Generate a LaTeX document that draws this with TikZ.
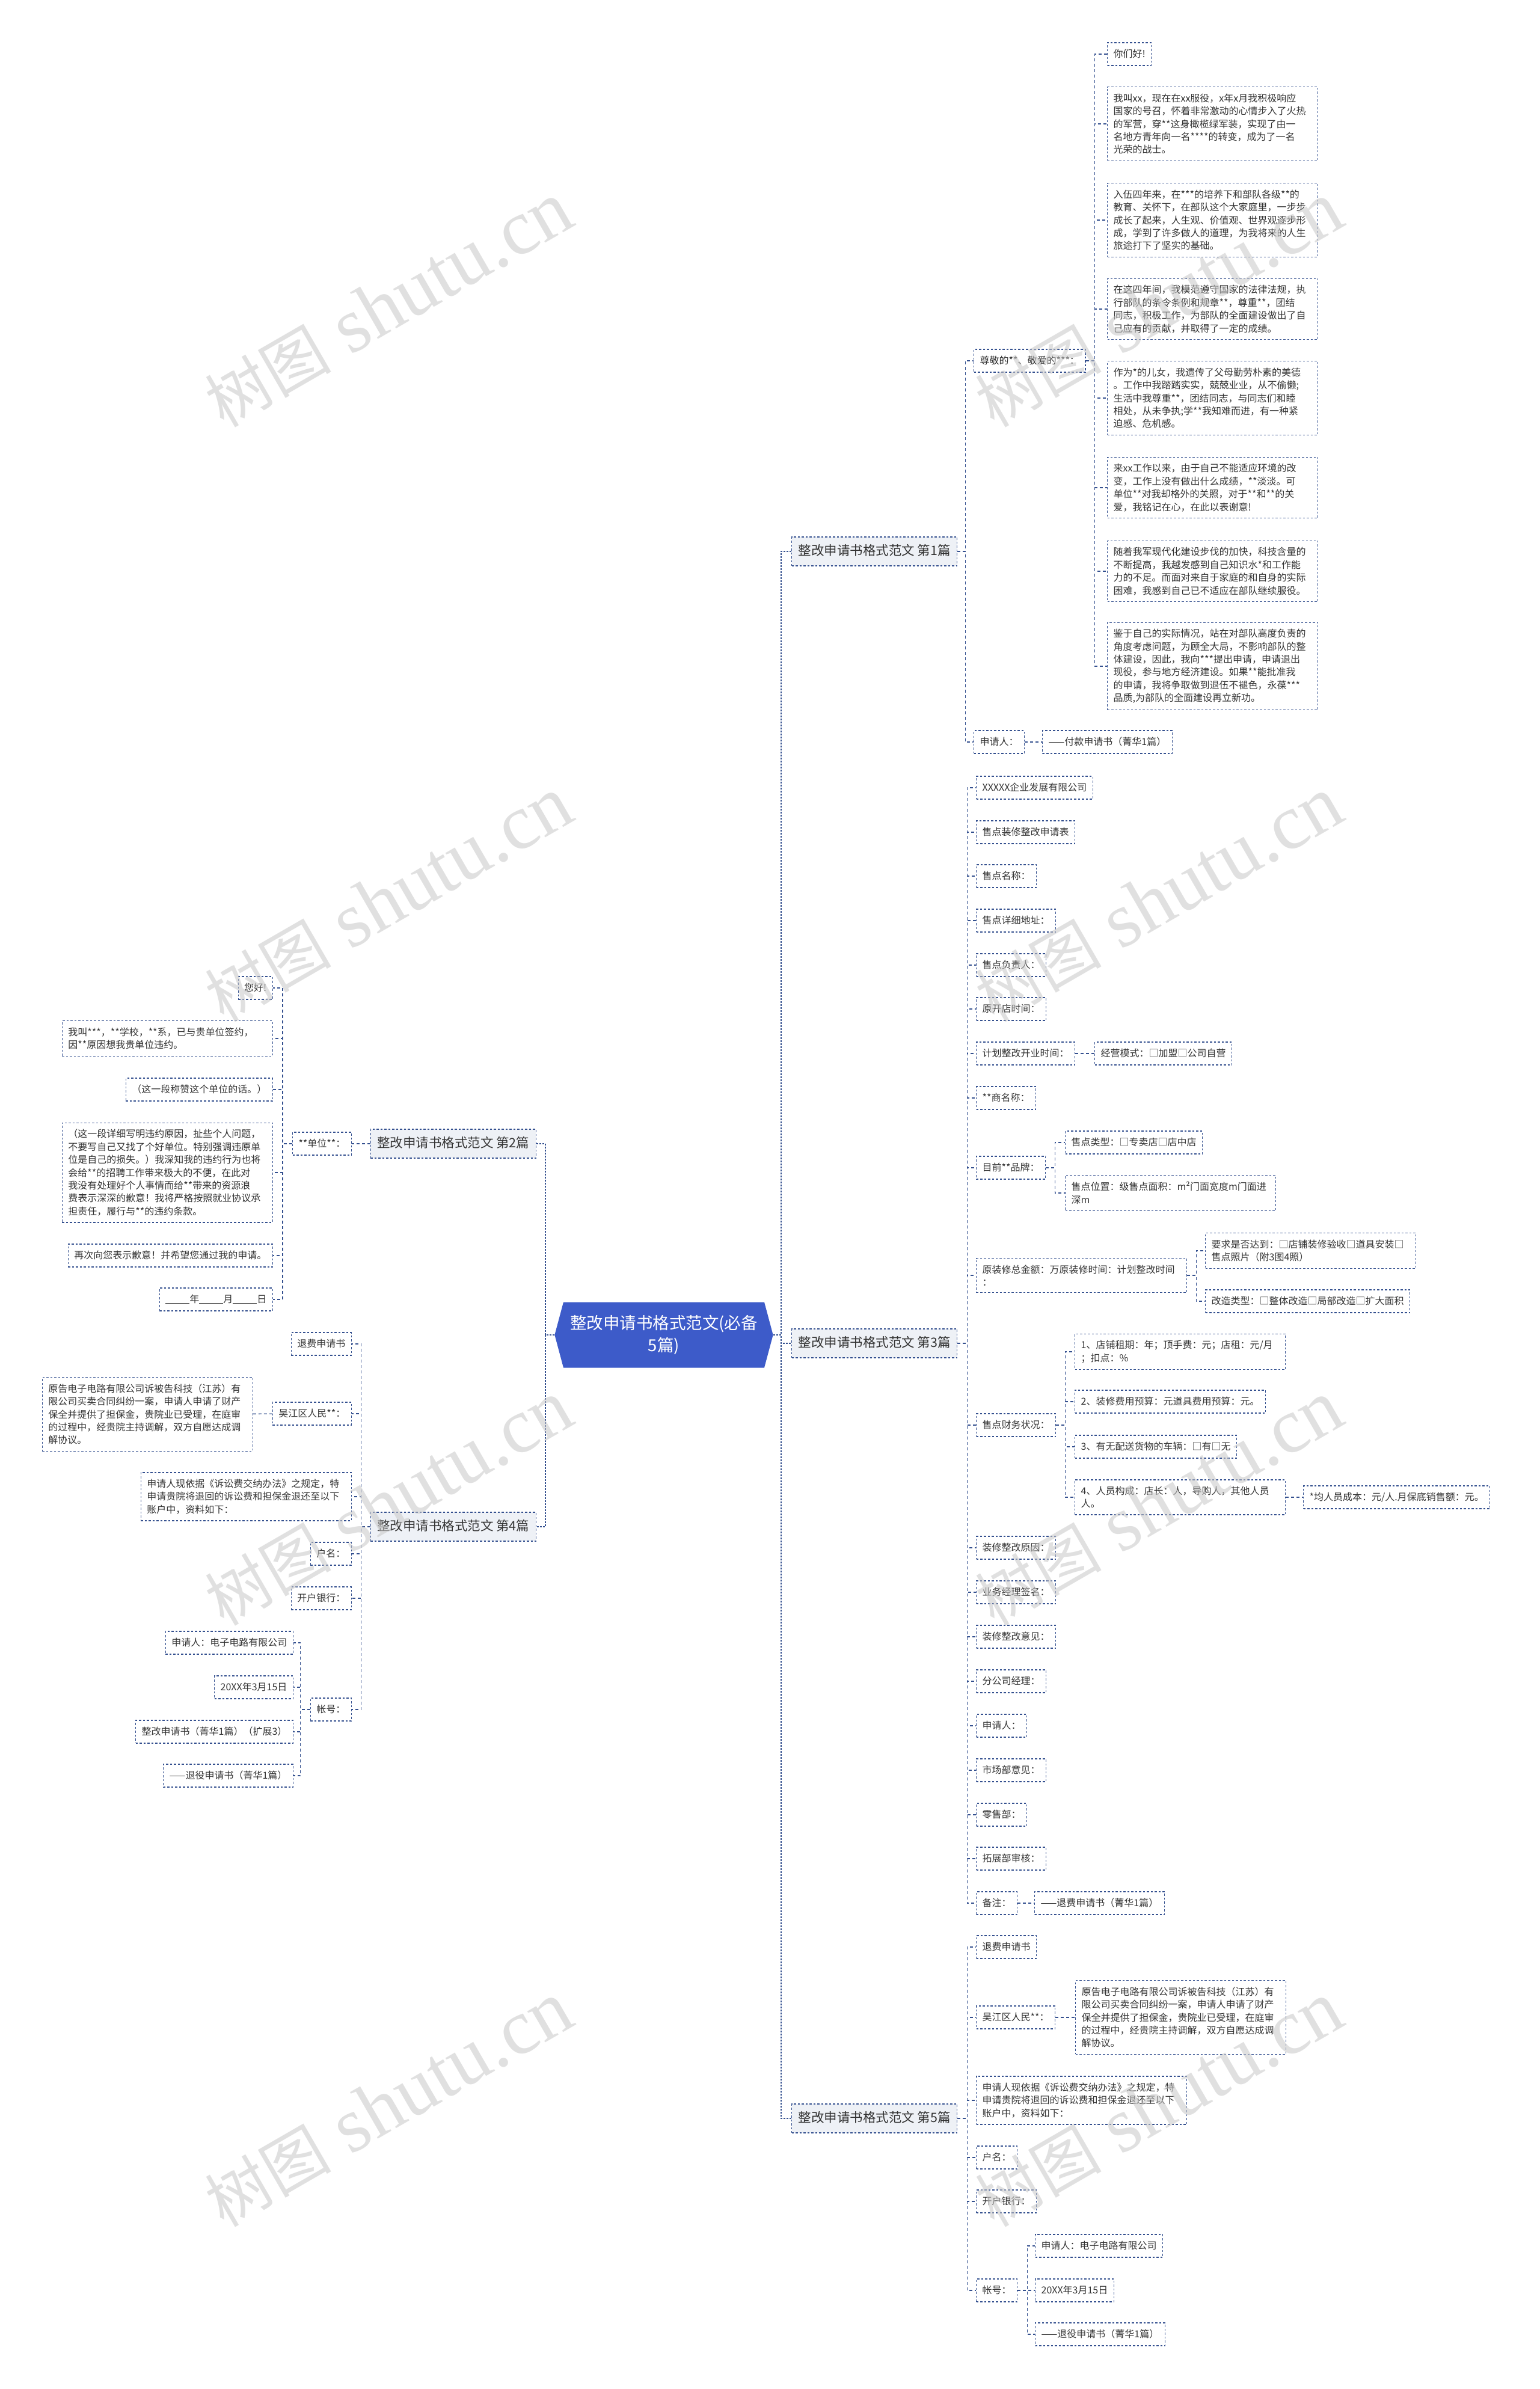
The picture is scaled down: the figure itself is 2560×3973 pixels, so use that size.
\documentclass[tikz,border=0pt]{standalone}
\usepackage{fontspec}
\usepackage{xcolor}
\usepackage{tikz}
\usetikzlibrary{shapes.symbols}
\newfontfamily\cjk{Noto Sans CJK SC}
\newfontfamily\wmserif{Liberation Serif}
\definecolor{navy}{HTML}{34508F}
\definecolor{ink}{HTML}{333333}
\definecolor{tipfill}{HTML}{EEF1F6}
\definecolor{rootblue}{HTML}{3D5BC9}
\definecolor{wmgray}{HTML}{C8C8C8}

\tikzset{
  box/.style={draw=navy, dash pattern=on 3.5pt off 3pt, line width=1.2pt, fill=white, text=ink,
    font=\cjk\fontsize{16}{21.4}\selectfont, inner xsep=10pt, inner ysep=11pt},
  leaf/.style={box, text height=13pt, text depth=3pt},
  para/.style={box, text width=330pt, align=left},
  branch/.style={box, fill=tipfill, font=\cjk\fontsize{21.5}{26}\selectfont, inner xsep=11pt,
    inner ysep=13.5pt, text height=17pt, text depth=4pt},
  root/.style={shape=signal, signal to=east and west, signal pointer angle=150, fill=rootblue,
    text=white, font=\cjk\fontsize{27.5}{37}\selectfont, text width=322pt, align=center,
    inner xsep=6pt, inner ysep=21pt, minimum height=109pt},
  trunk/.style={navy, line width=2.2pt, dash pattern=on 3pt off 2pt},
  link/.style={navy, line width=1.3pt, dash pattern=on 5pt off 4pt},
  wm/.style={text=wmgray, opacity=0.55, rotate=30, inner sep=0pt, font=\wmserif\fontsize{130}{130}\selectfont}
}

\begin{document}
\begin{tikzpicture}[x=1pt, y=-1pt]
  \useasboundingbox (0,0) rectangle (2560,3973);
  \fill[white] (0,0) rectangle (2560,3973);

  \node[root] (root) at (1104,2220) {整改申请书格式范文(必备\\5篇)};

  \node[branch, anchor=west] (b1) at (1316,917) {整改申请书格式范文 第1篇};
  \node[branch, anchor=east] (b2) at (892,1902) {整改申请书格式范文 第2篇};
  \node[branch, anchor=west] (b3) at (1316,2234) {整改申请书格式范文 第3篇};
  \node[branch, anchor=east] (b4) at (892,2539) {整改申请书格式范文 第4篇};
  \node[branch, anchor=west] (b5) at (1316,3523) {整改申请书格式范文 第5篇};

  \foreach \b in {b1,b3,b5}
    \draw[trunk] (root.east) -- ++(13,0) |- (\b.west);
  \foreach \b in {b2,b4}
    \draw[trunk] (root.west) -- ++(-15,0) |- (\b.east);

  % 第1篇
  \node[leaf, anchor=west] (b1a) at (1619,600) {尊敬的**、敬爱的***：};
  \node[leaf, anchor=west] (b1b) at (1619,1234) {申请人：};
  \node[leaf, anchor=west] (b1c) at (1733,1234) {——付款申请书（菁华1篇）};
  \node[leaf, anchor=west] (p1) at (1841,90) {你们好!};
  \node[para, anchor=west] (p2) at (1841,206) {我叫xx，现在在xx服役，x年x月我积极响应\\国家的号召，怀着非常激动的心情步入了火热\\的军营，穿**这身橄榄绿军装，实现了由一\\名地方青年向一名****的转变，成为了一名\\光荣的战士。};
  \node[para, anchor=west] (p3) at (1841,366) {入伍四年来，在***的培养下和部队各级**的\\教育、关怀下，在部队这个大家庭里，一步步\\成长了起来，人生观、价值观、世界观逐步形\\成，学到了许多做人的道理，为我将来的人生\\旅途打下了坚实的基础。};
  \node[para, anchor=west] (p4) at (1841,514) {在这四年间，我模范遵守国家的法律法规，执\\行部队的条令条例和规章**，尊重**，团结\\同志，积极工作，为部队的全面建设做出了自\\己应有的贡献，并取得了一定的成绩。};
  \node[para, anchor=west] (p5) at (1841,662) {作为*的儿女，我遗传了父母勤劳朴素的美德\\。工作中我踏踏实实，兢兢业业，从不偷懒;\\生活中我尊重**，团结同志，与同志们和睦\\相处，从未争执;学**我知难而进，有一种紧\\迫感、危机感。};
  \node[para, anchor=west] (p6) at (1841,811) {来xx工作以来，由于自己不能适应环境的改\\变，工作上没有做出什么成绩，**淡淡。可\\单位**对我却格外的关照，对于**和**的关\\爱，我铭记在心，在此以表谢意!};
  \node[para, anchor=west] (p7) at (1841,950) {随着我军现代化建设步伐的加快，科技含量的\\不断提高，我越发感到自己知识水*和工作能\\力的不足。而面对来自于家庭的和自身的实际\\困难，我感到自己已不适应在部队继续服役。};
  \node[para, anchor=west] (p8) at (1841,1108) {鉴于自己的实际情况，站在对部队高度负责的\\角度考虑问题，为顾全大局，不影响部队的整\\体建设，因此，我向***提出申请，申请退出\\现役，参与地方经济建设。如果**能批准我\\的申请，我将争取做到退伍不褪色，永葆***\\*品质,为部队的全面建设再立新功。};
  \foreach \c in {b1a,b1b}
    \draw[link] (b1.east) -- ++(13,0) |- (\c.west);
  \foreach \i in {1,...,8}
    \draw[link] (b1a.east) -- ++(15,0) |- (p\i.west);
  \draw[link] (b1b) -- (b1c);

  % 第3篇
  \foreach \n/\y/\t in {c1/1310/XXXXX企业发展有限公司, c2/1384/售点装修整改申请表, c3/1457/售点名称：,
      c4/1531/售点详细地址：, c5/1605/售点负责人：, c6/1678/原开店时间：, c7/1752/计划整改开业时间：,
      c8/1826/**商名称：, c9/1942/目前**品牌：, c11/2370/售点财务状况：, c12/2574/装修整改原因：,
      c13/2648/业务经理签名：, c14/2722/装修整改意见：, c15/2796/分公司经理：, c16/2870/申请人：,
      c17/2944/市场部意见：, c18/3018/零售部：, c19/3091/拓展部审核：, c20/3165/备注：}
    \node[leaf, anchor=west] (\n) at (1623,\y) {\t};
  \node[para, anchor=west] (c10) at (1623,2121) {原装修总金额：万原装修时间：计划整改时间\\：};
  \foreach \i in {1,...,20}
    \draw[link] (b3.east) -- ++(16,0) |- (c\i.west);

  \node[leaf, anchor=west] (c7a) at (1820,1752) {经营模式：□加盟□公司自营};
  \draw[link] (c7) -- (c7a);
  \node[leaf, anchor=west] (c9a) at (1771,1900) {售点类型：□专卖店□店中店};
  \node[para, anchor=west] (c9b) at (1771,1984) {售点位置：级售点面积：m²门面宽度m门面进\\深m};
  \foreach \c in {c9a,c9b}
    \draw[link] (c9.east) -- ++(15,0) |- (\c.west);
  \node[para, anchor=west] (c10a) at (2004,2080) {要求是否达到：□店铺装修验收□道具安装□\\售点照片（附3图4照）};
  \node[leaf, anchor=west] (c10b) at (2004,2164) {改造类型：□整体改造□局部改造□扩大面积};
  \foreach \c in {c10a,c10b}
    \draw[link] (c10.east) -- ++(15,0) |- (\c.west);
  \node[para, anchor=west] (f1) at (1787,2248) {1、店铺租期：年；顶手费：元；店租：元/月\\；扣点：\%};
  \node[leaf, anchor=west] (f2) at (1787,2331) {2、装修费用预算：元道具费用预算：元。};
  \node[leaf, anchor=west] (f3) at (1787,2406) {3、有无配送货物的车辆：□有□无};
  \node[para, anchor=west] (f4) at (1787,2490) {4、人员构成：店长：人，导购人，其他人员\\人。};
  \foreach \i in {1,...,4}
    \draw[link] (c11.east) -- ++(15,0) |- (f\i.west);
  \node[leaf, anchor=west] (f4a) at (2167,2490) {*均人员成本：元/人.月保底销售额：元。};
  \draw[link] (f4) -- (f4a);
  \node[leaf, anchor=west] (c20a) at (1720,3165) {——退费申请书（菁华1篇）};
  \draw[link] (c20) -- (c20a);

  % 第5篇
  \node[leaf, anchor=west] (e1) at (1623,3238) {退费申请书};
  \node[leaf, anchor=west] (e2) at (1623,3355) {吴江区人民**：};
  \node[para, anchor=west] (e3) at (1623,3493) {申请人现依据《诉讼费交纳办法》之规定，特\\申请贵院将退回的诉讼费和担保金退还至以下\\账户中，资料如下：};
  \node[leaf, anchor=west] (e4) at (1623,3588) {户名：};
  \node[leaf, anchor=west] (e5) at (1623,3661) {开户银行：};
  \node[leaf, anchor=west] (e6) at (1623,3809) {帐号：};
  \foreach \i in {1,...,6}
    \draw[link] (b5.east) -- ++(16,0) |- (e\i.west);
  \node[para, anchor=west] (e2a) at (1788,3355) {原告电子电路有限公司诉被告科技（江苏）有\\限公司买卖合同纠纷一案，申请人申请了财产\\保全并提供了担保金，贵院业已受理，在庭审\\的过程中，经贵院主持调解，双方自愿达成调\\解协议。};
  \draw[link] (e2) -- (e2a);
  \node[leaf, anchor=west] (k1) at (1721,3735) {申请人：电子电路有限公司};
  \node[leaf, anchor=west] (k2) at (1721,3809) {20XX年3月15日};
  \node[leaf, anchor=west] (k3) at (1721,3882) {——退役申请书（菁华1篇）};
  \foreach \i in {1,2,3}
    \draw[link] (e6.east) -- ++(16,0) |- (k\i.west);

  % 第2篇
  \node[leaf, anchor=east] (d0) at (585,1902) {**单位**：};
  \draw[link] (b2) -- (d0);
  \node[leaf, anchor=east] (d1) at (454,1643) {您好!};
  \node[para, anchor=east] (d2) at (454,1727) {我叫***，**学校，**系，已与贵单位签约，\\因**原因想我贵单位违约。};
  \node[leaf, anchor=east] (d3) at (454,1812) {（这一段称赞这个单位的话。）};
  \node[para, anchor=east] (d4) at (454,1950) {（这一段详细写明违约原因，扯些个人问题，\\不要写自己又找了个好单位。特别强调违原单\\位是自己的损失。）我深知我的违约行为也将\\会给**的招聘工作带来极大的不便，在此对\\我没有处理好个人事情而给**带来的资源浪\\费表示深深的歉意！我将严格按照就业协议承\\担责任，履行与**的违约条款。};
  \node[leaf, anchor=east] (d5) at (454,2088) {再次向您表示歉意！并希望您通过我的申请。};
  \node[leaf, anchor=east] (d6) at (454,2161) {\rule[-2pt]{40pt}{1.2pt}年\rule[-2pt]{40pt}{1.2pt}月\rule[-2pt]{40pt}{1.2pt}日};
  \foreach \i in {1,...,6}
    \draw[link] (d0.west) -- ++(-16,0) |- (d\i.east);

  % 第4篇
  \node[leaf, anchor=east] (g1) at (585,2235) {退费申请书};
  \node[leaf, anchor=east] (g2) at (585,2351) {吴江区人民**：};
  \node[para, anchor=east] (g3) at (585,2489) {申请人现依据《诉讼费交纳办法》之规定，特\\申请贵院将退回的诉讼费和担保金退还至以下\\账户中，资料如下：};
  \node[leaf, anchor=east] (g4) at (585,2584) {户名：};
  \node[leaf, anchor=east] (g5) at (585,2658) {开户银行：};
  \node[leaf, anchor=east] (g6) at (585,2843) {帐号：};
  \foreach \i in {1,...,6}
    \draw[link] (b4.west) -- ++(-15,0) |- (g\i.east);
  \node[para, anchor=east] (g2a) at (421,2352) {原告电子电路有限公司诉被告科技（江苏）有\\限公司买卖合同纠纷一案，申请人申请了财产\\保全并提供了担保金，贵院业已受理，在庭审\\的过程中，经贵院主持调解，双方自愿达成调\\解协议。};
  \draw[link] (g2) -- (g2a);
  \node[leaf, anchor=east] (h1) at (488,2732) {申请人：电子电路有限公司};
  \node[leaf, anchor=east] (h2) at (488,2806) {20XX年3月15日};
  \node[leaf, anchor=east] (h3) at (488,2880) {整改申请书（菁华1篇）（扩展3）};
  \node[leaf, anchor=east] (h4) at (488,2953) {——退役申请书（菁华1篇）};
  \foreach \i in {1,...,4}
    \draw[link] (g6.west) -- ++(-16,0) |- (h\i.east);

  \foreach \x in {646,1927}
    \foreach \y in {507,1496,2500,3500}
      \node[wm] (wm\x\y) at (\x,\y) {{\cjk\fontsize{105}{105}\selectfont 树图} shutu.cn};
\end{tikzpicture}
\end{document}
